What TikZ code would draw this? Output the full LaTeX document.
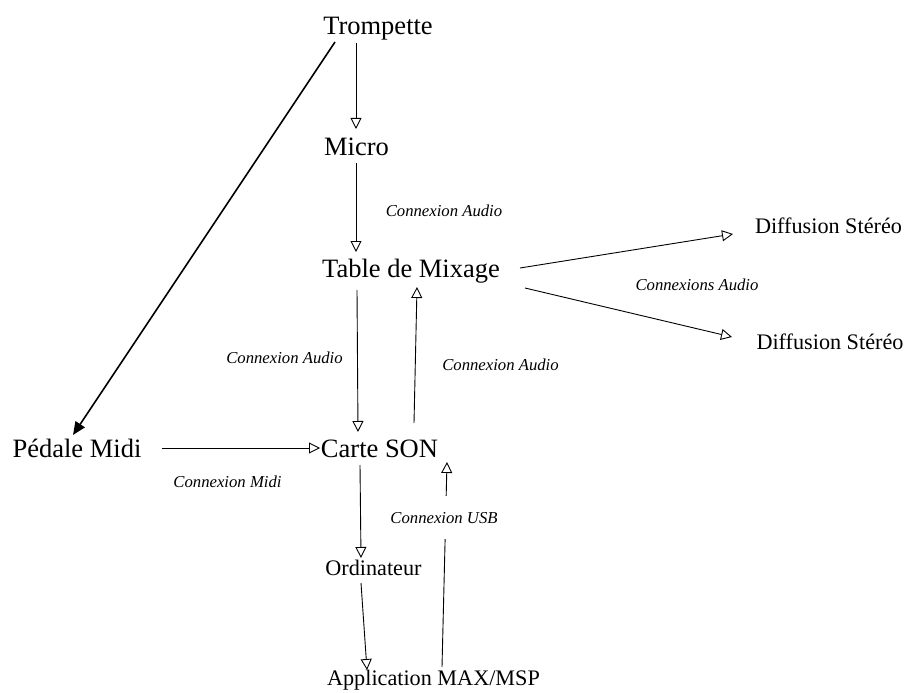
\documentclass[tikz,border=0pt]{standalone}
\usepackage{fontspec}
\setmainfont{Liberation Serif}
\usetikzlibrary{arrows.meta,calc}
\begin{document}
\begin{tikzpicture}[x=1pt,y=-1pt,
  bignode/.style={anchor=base,inner sep=0pt,font=\fontsize{26.5}{30}\selectfont},
  midnode/.style={anchor=base,inner sep=0pt,font=\fontsize{22.2}{26}\selectfont},
  lab/.style={anchor=base,inner sep=0pt,font=\fontsize{16.7}{20}\selectfont\itshape},
  oa/.style={line width=0.9pt,-{Triangle[open,length=11pt,width=11pt]}},
  fa/.style={line width=1.6pt,-{Triangle[length=13pt,width=11pt]}}]
\useasboundingbox (0,0) rectangle (906,693);
% nodes
\node[bignode] (tr) at (378,35) {Trompette};
\node[bignode] (mi) at (356.5,155) {Micro};
\node[bignode] (tm) at (411,277) {Table de Mixage};
\node[midnode] (d1) at (828.5,233) {Diffusion Stéréo};
\node[midnode] (d2) at (830,349) {Diffusion Stéréo};
\node[bignode] (pm) at (77,457) {Pédale Midi};
\node[bignode] (cs) at (379.5,457) {Carte SON};
\node[midnode] (or) at (373.5,575) {Ordinateur};
\node[midnode] (ap) at (433.5,685) {Application MAX/MSP};
% connectors
\draw[oa] ($(tr.base)+(-22,8)$) -- ($(mi.base)+(-0.5,-26)$);
\draw[fa] ($(tr.base)+(-43,7)$) -- ($(pm.base)+(-4,-22)$);
\draw[oa] ($(mi.base)+(-0.5,8)$) -- ($(tm.base)+(-55,-25)$);
\draw[oa] ($(tm.base)+(109,-9)$) -- ($(d1.base)+(-95.5,1)$);
\draw[oa] ($(tm.base)+(114,11)$) -- ($(d2.base)+(-98,-12)$);
\draw[oa] ($(tm.base)+(-54,13)$) -- ($(cs.base)+(-21.5,-25)$);
\draw[oa] ($(cs.base)+(34.5,-34)$) -- ($(tm.base)+(6,10)$);
\draw[oa] ($(pm.base)+(85,-9)$) -- ($(cs.base)+(-59.5,-9)$);
\draw[oa] ($(cs.base)+(-19.5,8)$) -- ($(or.base)+(-12.5,-17)$);
\draw[oa] ($(or.base)+(-12.5,8)$) -- ($(ap.base)+(-66.5,-15)$);
\draw[oa] ($(ap.base)+(8.5,-18)$) -- ($(cs.base)+(67.5,5)$);
% labels
\node[lab] (l1) at (444,216) {Connexion Audio};
\node[lab] (l2) at (697,290) {Connexions Audio};
\node[lab] (l3) at (284.5,363) {Connexion Audio};
\node[lab] (l4) at (500.5,370) {Connexion Audio};
\node[lab] (l5) at (227.5,487) {Connexion Midi};
\node[lab,fill=white,inner ysep=16pt] (l6) at (444,523) {Connexion USB};
\end{tikzpicture}
\end{document}
